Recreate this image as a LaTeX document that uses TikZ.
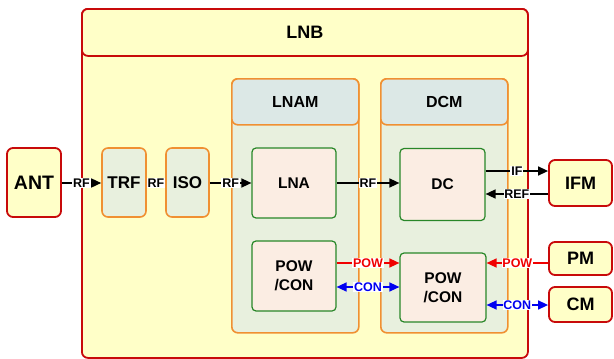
\documentclass[tikz,border=0pt]{standalone}
\usepackage{fontspec}
\setmainfont{Liberation Sans}
\usetikzlibrary{arrows.meta}
\definecolor{lnbred}{RGB}{200,10,10}
\definecolor{yfill}{RGB}{255,255,200}
\definecolor{orng}{RGB}{240,144,50}
\definecolor{modfill}{RGB}{232,240,222}
\definecolor{hdrfill}{RGB}{220,232,230}
\definecolor{grn}{RGB}{40,135,40}
\definecolor{peach}{RGB}{251,237,227}
\definecolor{conblue}{RGB}{0,0,240}
\definecolor{powred}{RGB}{240,0,0}
\tikzset{
  redbox/.style={draw=lnbred, line width=1.8pt, fill=yfill, rounded corners=6pt, inner sep=0pt, font=\bfseries\fontsize{18}{20}\selectfont},
  orbox/.style={draw=orng, line width=1.6pt, fill=modfill, rounded corners=6pt, inner sep=0pt, font=\bfseries\fontsize{16}{18}\selectfont},
  hdrbox/.style={draw=orng, line width=1.6pt, fill=hdrfill, rounded corners=6pt, inner sep=0pt, font=\bfseries\fontsize{16}{18}\selectfont},
  grbox/.style={draw=grn, line width=1.2pt, fill=peach, rounded corners=4pt, inner sep=0pt, align=center, font=\bfseries\fontsize{15.5}{19}\selectfont},
  lbl/.style={fill=white, inner sep=0.8pt, font=\bfseries\fontsize{12.5}{13}\selectfont},
  tip/.style={-{Triangle[length=10pt,width=9pt]}},
  sig/.style={line width=1.5pt, black},
  pow/.style={line width=1.5pt, powred, text=powred},
  con/.style={line width=1.5pt, conblue, text=conblue, {Triangle[length=10pt,width=9pt]}-{Triangle[length=10pt,width=9pt]}},
}
\begin{document}
\begin{tikzpicture}[x=1pt,y=-1pt]
\useasboundingbox (0,0) rectangle (614,359);
% LNB container
\node[redbox, minimum width=446pt, minimum height=349pt, anchor=north west] (lnb) at (81,8) {};
\node[redbox, minimum width=446pt, minimum height=47pt, anchor=north west] (lnbh) at (81,8) {LNB};
% modules
\node[orbox, minimum width=127pt, minimum height=254pt, anchor=north west] (lnam) at (231,78) {};
\node[hdrbox, minimum width=127pt, minimum height=46pt, anchor=north west] (lnamh) at (231,78) {LNAM};
\node[orbox, minimum width=127pt, minimum height=254pt, anchor=north west] (dcm) at (380,78) {};
\node[hdrbox, minimum width=127pt, minimum height=46pt, anchor=north west] (dcmh) at (380,78) {DCM};
% outer boxes
\node[redbox, font=\bfseries\fontsize{19.5}{21}\selectfont, minimum width=54pt, minimum height=69pt] (ant) at (34,182.5) {ANT};
\node[redbox, minimum width=63pt, minimum height=46pt] (ifm) at (580.5,183) {IFM};
\node[redbox, minimum width=63pt, minimum height=33pt] (pm) at (580.5,258.5) {PM};
\node[redbox, minimum width=63pt, minimum height=35pt] (cm) at (580.5,304.5) {CM};
% TRF / ISO
\node[orbox, font=\bfseries\fontsize{17}{19}\selectfont, minimum width=44pt, minimum height=69pt] (trf) at (124,182.5) {TRF};
\node[orbox, font=\bfseries\fontsize{17}{19}\selectfont, minimum width=43pt, minimum height=69pt] (iso) at (187.5,182.5) {ISO};
% green blocks
\node[grbox, minimum width=84pt, minimum height=70pt] (lna) at (294,183) {LNA};
\node[grbox, minimum width=85pt, minimum height=72pt] (dc) at (442.5,184.5) {DC};
\node[grbox, minimum width=84pt, minimum height=70pt] (pc1) at (294,276) {POW\\/CON};
\node[grbox, minimum width=86pt, minimum height=69pt] (pc2) at (443,287.5) {POW\\/CON};
% RF chain
\draw[sig, tip] (ant.east |- 0,183) -- node[lbl] {RF} (trf.west |- 0,183);
\draw[sig] (trf.east |- 0,183) -- node[lbl] {RF} (iso.west |- 0,183);
\draw[sig, tip] (iso.east |- 0,183) -- node[lbl] {RF} (lna.west |- 0,183);
\draw[sig, tip] (lna.east |- 0,183) -- node[lbl] {RF} (dc.west |- 0,183);
\draw[sig, tip] (dc.east |- 0,171) -- node[lbl] {IF} (ifm.west |- 0,171);
\draw[sig, tip] (ifm.west |- 0,194) -- node[lbl] {REF} (dc.east |- 0,194);
% power / control
\draw[pow, tip] (pc1.east |- 0,263) -- node[lbl] {POW} (pc2.west |- 0,263);
\draw[con] (pc1.east |- 0,287) -- node[lbl] {CON} (pc2.west |- 0,287);
\draw[pow, tip] (pm.west |- 0,263) -- node[lbl] {POW} (pc2.east |- 0,263);
\draw[con] (pc2.east |- 0,305) -- node[lbl] {CON} (cm.west |- 0,305);
\end{tikzpicture}
\end{document}
